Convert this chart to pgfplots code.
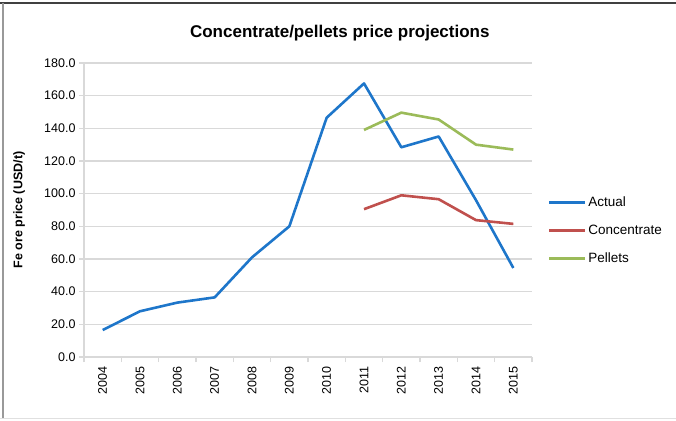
\documentclass[border=0pt]{standalone}
\usepackage{pgfplots}
\pgfplotsset{compat=1.18}
\usepackage{fontspec}
\setmainfont{Liberation Sans}

\definecolor{actual}{RGB}{30,118,202}
\definecolor{conc}{RGB}{192,80,77}
\definecolor{pell}{RGB}{155,187,89}
\definecolor{gridc}{RGB}{217,217,217}

\begin{document}
\begin{tikzpicture}
  % chart frame
  \path[use as bounding box] (0pt,0pt) rectangle (676pt,420pt);
  \draw[line width=2.5pt, black!75] (0pt,417pt) -- (676pt,417pt);
  \draw[line width=1.2pt, black!40] (3pt,417pt) -- (3pt,2pt);
  \draw[line width=1pt, black!12] (0pt,2pt) -- (676pt,2pt);

  \begin{axis}[
    at={(84pt,63pt)}, anchor=south west,
    scale only axis,
    width=448pt, height=294pt,
    xmin=-0.5, xmax=11.5,
    ymin=0, ymax=180,
    axis x line*=bottom, axis y line*=left,
    axis line style={gridc, line width=1.2pt},
    xtick={0,...,11},
    xticklabels={2004,2005,2006,2007,2008,2009,2010,2011,2012,2013,2014,2015},
    xticklabel style={rotate=90, anchor=east, font=\fontsize{12.5}{14}\selectfont, xshift=-1pt},
    major x tick style={draw=none},
    minor xtick={-0.5,0.5,...,11.5},
    minor tick length=5pt,
    minor x tick style={gridc, line width=1.2pt},
    ytick={0,20,...,180},
    yticklabel style={font=\fontsize{12.5}{14}\selectfont},
    /pgf/number format/assume math mode=true,
    yticklabel={\pgfmathprintnumber[fixed, fixed zerofill, precision=1]{\tick}},
    tick align=outside,
    major tick length=5pt,
    major y tick style={gridc, line width=1.2pt},
    ymajorgrids,
    grid style={gridc, line width=1.5pt},
    ylabel={\textbf{Fe ore price (USD/t)}},
    ylabel style={at={(axis description cs:-0.145,0.5)}, anchor=center, font=\fontsize{12.5}{14}\selectfont},
    title={Concentrate/pellets price projections},
    title style={at={(axis description cs:0.571,1.08)}, anchor=center, font=\bfseries\fontsize{17}{20}\selectfont},
    legend style={at={(axis description cs:1.028,0.43)}, anchor=west, draw=none,
      font=\fontsize{13.5}{16}\selectfont, row sep=13pt, fill=none},
    legend cell align=left,
    legend image code/.code={\draw[#1] (0pt,0pt) -- (36pt,0pt);},
    every axis plot/.append style={line width=2.6pt, line join=round},
  ]
    \addplot[actual] coordinates {
      (0,16.5) (1,28) (2,33.3) (3,36.5) (4,61) (5,80)
      (6,146.5) (7,167.5) (8,128.4) (9,135) (10,96) (11,54.5)
    };
    \addlegendentry{Actual}
    \addplot[conc] coordinates {
      (7,90.5) (8,99) (9,96.6) (10,83.8) (11,81.5)
    };
    \addlegendentry{Concentrate}
    \addplot[pell] coordinates {
      (7,139) (8,149.6) (9,145.4) (10,130) (11,127)
    };
    \addlegendentry{Pellets}
  \end{axis}
\end{tikzpicture}
\end{document}
